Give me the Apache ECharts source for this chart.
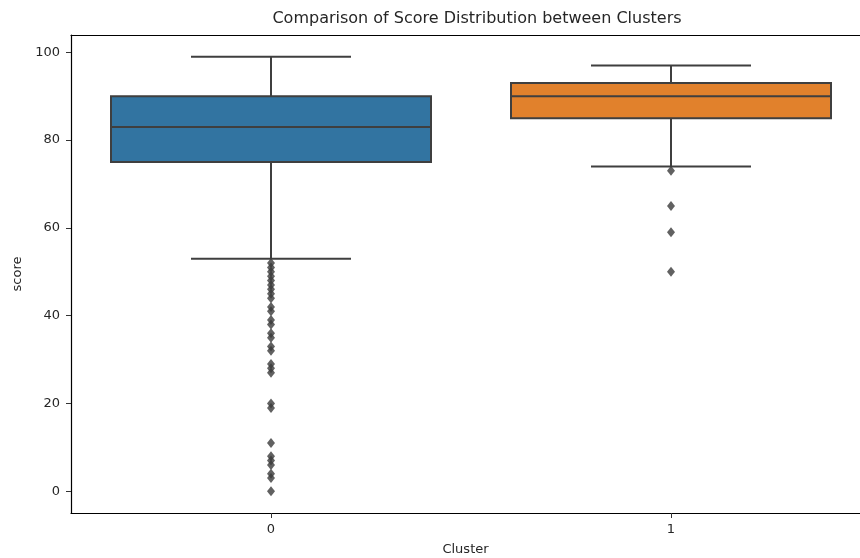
<!DOCTYPE html>
<html>
<head>
<meta charset="utf-8">
<script src="https://cdn.jsdelivr.net/npm/echarts@6/dist/echarts.min.js"></script>
<style>html,body{margin:0;padding:0;background:#fff}#c{width:860px;height:558px}</style>
</head>
<body>
<div id="c"></div>
<script>
const categories = ['0', '1'];
const whiskerLow = [53, 74];
const q1 = [75, 85];
const median = [83, 90];
const q3 = [90, 93];
const whiskerHigh = [99, 97];
const outliers0 = [52, 51, 50, 49, 48, 47, 46, 45, 44, 42, 41, 39, 38, 36, 35, 33, 32, 29, 28, 27, 20, 19, 11, 8, 7, 6, 4, 3, 0];
const outliers1 = [73, 65, 59, 50];
const yTicks = [0, 20, 40, 60, 80, 100];
const xTicks = [0, 1];
const boxColors = ['#3274a1', '#e1812c'];
const lineColor = '#3f3f3f';
const FONT = 'DejaVu Sans';

const boxData = categories.map((c, i) => [i, whiskerLow[i], q1[i], median[i], q3[i], whiskerHigh[i]]);
const outlierData = [];
outliers0.forEach(v => outlierData.push([0, v]));
outliers1.forEach(v => outlierData.push([1, v]));

// plot area spans x from -0.5 to 1.5 over 800px, of which 789px are visible
const X_MIN = -0.5;
const X_MAX = -0.5 + 789 / 400;

const chart = echarts.init(document.getElementById('c'), null, {renderer: 'canvas'});
chart.setOption({
  animation: false,
  backgroundColor: '#fff',
  title: {
    text: 'Comparison of Score Distribution between Clusters',
    left: 472, top: 6, textAlign: 'center',
    textStyle: {fontFamily: FONT, fontSize: 16, fontWeight: 'normal', color: '#262626'}
  },
  grid: {left: 71, right: 0, top: 35, bottom: 45, show: false, containLabel: false, outerBoundsMode: 'none'},
  xAxis: [{
    type: 'value', min: X_MIN, max: X_MAX,
    name: 'Cluster', nameLocation: 'middle', nameGap: 30,
    nameTextStyle: {fontFamily: FONT, fontSize: 13, color: '#262626'},
    axisLine: {show: true, onZero: false, lineStyle: {color: '#000', width: 1.2}},
    axisTick: {show: true, length: 5, customValues: xTicks, lineStyle: {color: '#333'}},
    axisLabel: {fontFamily: FONT, fontSize: 13, color: '#262626', margin: 10, customValues: xTicks,
      formatter: v => categories[Math.round(v)]},
    splitLine: {show: false}
  }, {
    type: 'value', position: 'top', min: X_MIN, max: X_MAX,
    axisLine: {show: true, onZero: false, lineStyle: {color: '#000', width: 1.2}},
    axisTick: {show: false}, axisLabel: {show: false}, splitLine: {show: false}
  }],
  yAxis: {
    type: 'value', min: -4.95, max: 103.95,
    name: 'score', nameLocation: 'middle', nameGap: 44,
    nameTextStyle: {fontFamily: FONT, fontSize: 13, color: '#262626'},
    axisLine: {show: true, onZero: false, lineStyle: {color: '#000', width: 1.2}},
    axisTick: {show: true, length: 5, customValues: yTicks, lineStyle: {color: '#333'}},
    axisLabel: {fontFamily: FONT, fontSize: 13, color: '#262626', margin: 11, customValues: yTicks},
    splitLine: {show: false}
  },
  series: [
    {
      type: 'custom',
      data: boxData,
      encode: {x: 0, y: [1, 2, 3, 4, 5]},
      renderItem: function (params, api) {
        const x = api.value(0);
        const lo = api.coord([x, api.value(1)]);
        const b1 = api.coord([x, api.value(2)]);
        const md = api.coord([x, api.value(3)]);
        const b3 = api.coord([x, api.value(4)]);
        const hi = api.coord([x, api.value(5)]);
        const band = api.size([1, 0])[0];
        const bw = band * 0.8;
        const cw = bw / 2;
        const cx = lo[0];
        const ls = {stroke: lineColor, lineWidth: 2};
        return {
          type: 'group',
          children: [
            {type: 'line', shape: {x1: cx, y1: b3[1], x2: cx, y2: hi[1]}, style: ls},
            {type: 'line', shape: {x1: cx, y1: b1[1], x2: cx, y2: lo[1]}, style: ls},
            {type: 'line', shape: {x1: cx - cw / 2, y1: hi[1], x2: cx + cw / 2, y2: hi[1]}, style: ls},
            {type: 'line', shape: {x1: cx - cw / 2, y1: lo[1], x2: cx + cw / 2, y2: lo[1]}, style: ls},
            {type: 'rect', shape: {x: cx - bw / 2, y: b3[1], width: bw, height: b1[1] - b3[1]},
             style: {fill: boxColors[params.dataIndex], stroke: lineColor, lineWidth: 2}},
            {type: 'line', shape: {x1: cx - bw / 2, y1: md[1], x2: cx + bw / 2, y2: md[1]}, style: ls}
          ]
        };
      },
      z: 2
    },
    {
      type: 'scatter',
      data: outlierData,
      symbol: 'diamond',
      symbolSize: [8, 10],
      itemStyle: {color: '#3a3a3a'},
      z: 3
    }
  ]
});
</script>
</body>
</html>
